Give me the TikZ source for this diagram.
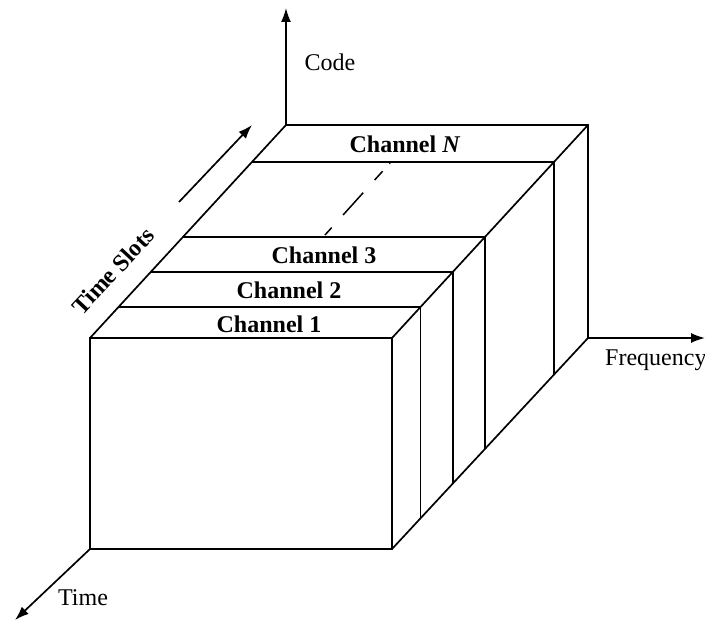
\documentclass[tikz,border=0pt]{standalone}
\usepackage{fontspec}
\setmainfont{Liberation Serif}
\usetikzlibrary{arrows.meta,calc}
\begin{document}
\begin{tikzpicture}[x=1pt,y=-1pt,
  edge/.style={line width=1.7pt,line join=miter},
  axis/.style={line width=1.7pt,-{Latex[length=14pt,width=10pt]}},
  chlabel/.style={font=\fontsize{24}{28}\selectfont\bfseries,inner sep=0pt},
  axlabel/.style={font=\fontsize{24}{28}\selectfont,inner sep=0pt}]
\useasboundingbox (0,0) rectangle (705,623);
% front face corners
\coordinate (FTL) at (90,338);
\coordinate (FTR) at (392,338);
\coordinate (FBR) at (392,549);
\coordinate (FBL) at (90,549);
% back corners
\coordinate (BTL) at (286,125);
\coordinate (BTR) at (588,125);
\coordinate (BBR) at (588,338);
% channel slice fractions along depth
\foreach \n/\f in {c1/0.1455,c2/0.3099,c3/0.4742,cN/0.8263}{
  \coordinate (\n L) at ($(FTL)!\f!(BTL)$);
  \coordinate (\n R) at ($(FTR)!\f!(BTR)$);
  \coordinate (\n B) at ($(FBR)!\f!(BBR)$);
}
% front face
\draw[edge] (FTL) rectangle (FBR);
% outline of the block
\draw[edge] (FTL) -- (BTL) -- (BTR) -- (BBR) -- (FBR);
\draw[edge] (FTR) -- (BTR);
% slices
\foreach \n in {c1,c2,c3,cN}{
  \draw[edge] (\n L) -- (\n R) -- (\n B);
}
% dashed continuation
\coordinate (dA) at (325,235);
\coordinate (dB) at (390,163);
\draw[line width=1.5pt,dash pattern=on 10pt off 17pt on 30pt off 17pt on 12pt] (dA) -- (dB);
% axes
\coordinate (codeTip) at (286,8);
\coordinate (timeTip) at (15,620);
\coordinate (freqTip) at (705,338);
\draw[axis] (BTL) -- (codeTip);
\draw[axis] (FBL) -- (timeTip);
\draw[axis] (BBR) -- (freqTip);
% time slots arrow
\coordinate (tsA) at (179,202);
\coordinate (tsB) at (252,125);
\draw[axis] (tsA) -- (tsB);
% labels
\node[axlabel] (code) at (330,62) {Code};
\node[axlabel] (time) at (83,598) {Time};
\node[axlabel,anchor=west] (freq) at (605,360) {Frequency};
\node[chlabel,rotate=47] (slots) at (113,271) {Time Slots};
\node[chlabel] (ch1) at (269,324) {Channel 1};
\node[chlabel] (ch2) at (289,290) {Channel 2};
\node[chlabel] (ch3) at (324,255) {Channel 3};
\node[chlabel] (chN) at (405,144) {Channel \textit{N}};
\end{tikzpicture}
\end{document}
